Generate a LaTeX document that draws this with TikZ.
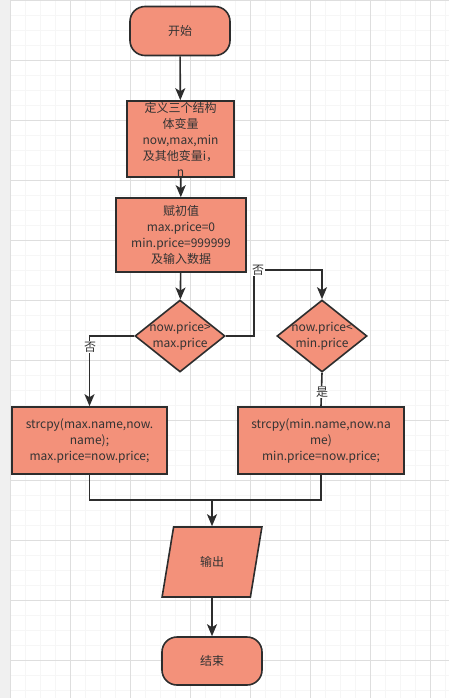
\documentclass[tikz,border=0pt]{standalone}
\usepackage{fontspec}
\setmainfont{Noto Sans CJK SC}
\usetikzlibrary{arrows.meta,shapes.geometric,positioning}
\definecolor{salmon}{RGB}{243,145,122}
\definecolor{edge}{RGB}{45,45,45}
\definecolor{gridminor}{RGB}{246,246,246}
\definecolor{gridmajor}{RGB}{222,222,222}
\tikzset{
  base/.style={draw=edge, fill=salmon, line width=1.6pt, align=center, text=black!80, inner sep=0pt},
  terminal/.style={base, rectangle, rounded corners=15pt, minimum width=100pt, minimum height=49pt},
  procbox/.style={base, rectangle, minimum height=67pt},
  decision/.style={base, diamond, minimum width=90pt, minimum height=72pt},
  iobox/.style={base, trapezium, trapezium left angle=72, trapezium right angle=108, trapezium stretches=true, minimum width=100pt, minimum height=70pt},
  flow/.style={draw=edge, line width=1.6pt, -{Stealth[length=12pt, width=10pt, inset=3pt]}},
  plain/.style={draw=edge, line width=1.6pt},
  lbl/.style={fill=white, inner sep=1pt, text=black!80}
}

\begin{document}
\begin{tikzpicture}[x=1pt, y=-1pt, font=\fontsize{12}{16}\selectfont]
  \useasboundingbox (0,0) rectangle (449,698);
  % background grid
  \fill[black!6] (0,0) rectangle (10,698);
  \foreach \gx in {10,25,...,449} \draw[gridminor, line width=0.6pt] (\gx,0) -- (\gx,698);
  \foreach \gy in {0,15,...,698} \draw[gridminor, line width=0.6pt] (10,\gy) -- (449,\gy);
  \foreach \gx in {10,70,...,449} \draw[gridmajor, line width=0.6pt] (\gx,0) -- (\gx,698);
  \foreach \gy in {0,60,...,698} \draw[gridmajor, line width=0.6pt] (10,\gy) -- (449,\gy);

  % shapes
  \node [terminal] (start) at (180,31) {开始};
  \node [procbox, minimum width=107pt, minimum height=76pt] (define) at (180.5,139) {定义三个结构\\体变量\\now,max,min\\及其他变量i，\\n};
  \node [procbox, minimum width=130pt, minimum height=74pt] (init) at (181,235) {赋初值\\max.price=0\\min.price=999999\\及输入数据};
  \node [decision, label={[align=center, text=black!80]center:now.price>\\max.price}] (cmpmax) at (180,336) {};
  \node [decision, label={[align=center, text=black!80]center:now.price<\\min.price}] (cmpmin) at (322,336) {};
  \node [procbox, minimum width=155pt] (setmax) at (89.5,440.5) {strcpy(max.name,now.\\name);\\max.price=now.price;};
  \node [procbox, minimum width=166pt] (setmin) at (321,440.5) {strcpy(min.name,now.na\\me)\\min.price=now.price;};
  \node [iobox] (output) at (212,562) {输出};
  \node [terminal, minimum height=48pt] (stop) at (212,661) {结束};

  \coordinate (nojoin) at (254,270);
  \coordinate (merge) at (212,500);

  % connectors
  \draw [flow] (start) -- (define);
  \draw [flow] (define) -- (init);
  \draw [flow] (init) -- (cmpmax);
  \draw [flow] (cmpmax.east) -| (nojoin) -| (cmpmin.north);
  \draw [flow] (cmpmax.west) -| (setmax.north);
  \draw [plain] (cmpmin.south) -- (setmin.north);
  \draw [plain] (setmax.south) |- (merge);
  \draw [plain] (setmin.south) |- (merge);
  \draw [flow] (merge) -- (output.north);
  \draw [flow] (output.south) -- (stop.north);

  % labels
  \node [lbl] (no1) at (258,270) {否};
  \node [lbl] (no2) at (90,347) {否};
  \node [lbl] (yes) at (322,392) {是};
\end{tikzpicture}
\end{document}
